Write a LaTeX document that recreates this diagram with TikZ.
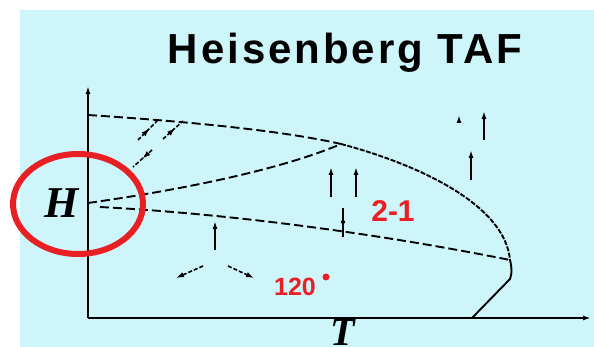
\documentclass[tikz,border=0pt]{standalone}
\usepackage{fontspec}
\setmainfont{Liberation Serif}
\newfontfamily\arialb[LetterSpace=7]{Liberation Sans Bold}
\newfontfamily\arialbb{Liberation Sans Bold}
\usetikzlibrary{arrows.meta,decorations.markings}
\definecolor{bgblue}{RGB}{206,246,250}
\definecolor{myred}{RGB}{232,32,36}
\tikzset{
  phase/.style={line width=1.9pt, dash pattern=on 9pt off 4pt},
  phasefine/.style={line width=1.9pt, dash pattern=on 5pt off 1.5pt},
  axisline/.style={line width=1.7pt, -{Latex[length=8pt,width=5pt]}},
  spin/.style={line width=1.6pt, -{Latex[length=8pt,width=5pt]}},
  spindash/.style={line width=1.6pt, dash pattern=on 4pt off 2pt, -{Latex[length=8pt,width=5.5pt]}},
  midspin/.style={line width=1.6pt, dash pattern=on 4pt off 2pt,
    decoration={markings, mark=at position #1 with {\arrow{Latex[length=8pt,width=5.5pt]}}},
    postaction=decorate},
  redlabel/.style={text=myred, font=\arialbb\fontsize{30}{30}\selectfont, inner sep=0pt},
}
\begin{document}
\begin{tikzpicture}[x=1pt,y=-1pt]
\useasboundingbox (0,0) rectangle (594,347);
\fill[white] (0,0) rectangle (594,347);
\fill[bgblue] (20,10) rectangle (594,347);
% title
\node[anchor=base, inner sep=0pt, font=\arialb\fontsize{42}{42}\selectfont] (title) at (345,64) {Heisenberg TAF};
% axes
\coordinate (O) at (88,318);
\coordinate (Ytop) at (88,86);
\coordinate (Xend) at (591,318);
\draw[axisline] (O) -- (Ytop);
\draw[axisline] (O) -- (Xend);
\node[anchor=north, inner sep=0pt, font=\bfseries\itshape\fontsize{40}{40}\selectfont] (Tlab) at (343,319) {T};
% phase boundary points
\coordinate (A) at (88,115);
\coordinate (P) at (341,144);
\coordinate (R) at (510,260);
\coordinate (Rb) at (510,279);
\coordinate (B) at (472,318);
\coordinate (M0) at (88,203);
\coordinate (L0) at (100,207);
\draw[phase] (A) .. controls (180,121) and (280,130) .. (P);
\draw[phasefine] (P) .. controls (420,165) and (505,205) .. (R);
\draw[line width=1.9pt] (R) .. controls (512,268) and (512,274) .. (Rb) -- (B);
\draw[phase] (M0) .. controls (180,190) and (280,170) .. (P);
\draw[phase] (L0) .. controls (250,215) and (400,238) .. (R);
% H label and red ellipse
\node[inner sep=0pt, font=\bfseries\itshape\fontsize{44}{44}\selectfont, anchor=base] (Hlab) at (62,218) {H};
\draw[myred, line width=6pt] (78,204) ellipse [x radius=65, y radius=50];
% spins near top-left
\coordinate (s1a) at (138,140); \coordinate (s1b) at (157,121);
\coordinate (s2a) at (163,139); \coordinate (s2b) at (183,121);
\coordinate (s3a) at (152,150); \coordinate (s3b) at (133,167);
\draw[midspin=0.6] (s1a) -- (s1b);
\draw[midspin=0.6] (s2a) -- (s2b);
\draw[midspin=0.5] (s3a) -- (s3b);
% 120 degree region
\coordinate (u1a) at (215,250); \coordinate (u1b) at (215,221);
\draw[spin] (u1a) -- (u1b);
\coordinate (l1a) at (203,266); \coordinate (l1b) at (176,278);
\coordinate (r1a) at (228,266); \coordinate (r1b) at (254,278);
\draw[spindash] (l1a) -- (l1b);
\draw[spindash] (r1a) -- (r1b);
\node[redlabel, font=\arialbb\fontsize{25}{25}\selectfont] (t120) at (295,287) {120};
\fill[myred] (326,277) circle (3.5) coordinate (deg);
% 2-1 region
\coordinate (v1a) at (331,197); \coordinate (v1b) at (331,167);
\coordinate (v2a) at (356,197); \coordinate (v2b) at (356,167);
\draw[spin] (v1a) -- (v1b);
\draw[spin] (v2a) -- (v2b);
\coordinate (d1a) at (343,208); \coordinate (d1b) at (343,237);
\draw[line width=1.6pt, decoration={markings, mark=at position 0.72 with {\arrow{Latex[length=8pt,width=5pt]}}}, postaction=decorate] (d1a) -- (d1b);
\node[redlabel] (t21) at (393,211) {2-1};
% saturated region
\coordinate (w1a) at (484,140); \coordinate (w1b) at (484,111);
\coordinate (w2a) at (471,180); \coordinate (w2b) at (471,150);
\coordinate (w3a) at (459,122); \coordinate (w3b) at (459,115);
\draw[spin] (w1a) -- (w1b);
\draw[spin] (w2a) -- (w2b);
\draw[spin] (w3a) -- (w3b);
\end{tikzpicture}
\end{document}
